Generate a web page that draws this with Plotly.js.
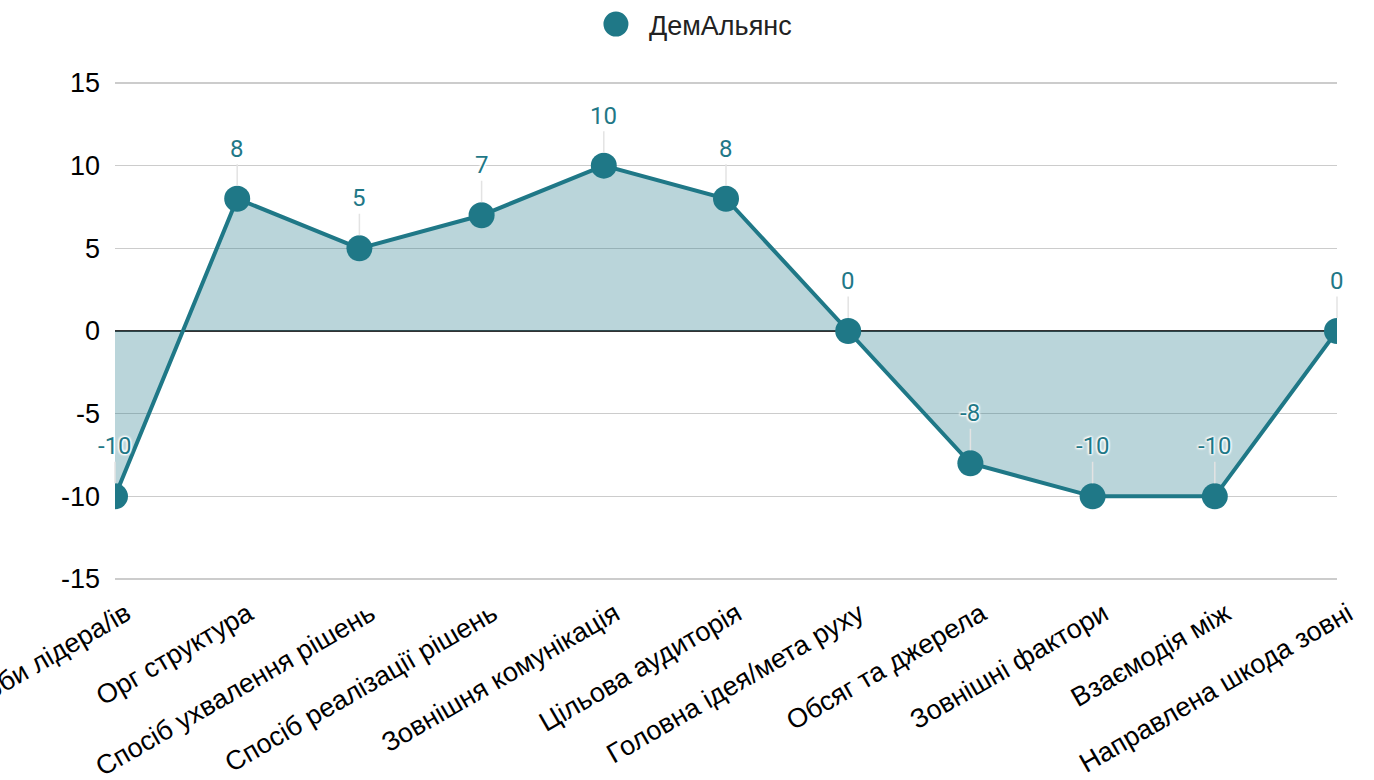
<!DOCTYPE html>
<html>
<head>
<meta charset="utf-8">
<script src="https://cdn.plot.ly/plotly-3.0.1.min.js"></script>
<style>html,body{margin:0;padding:0;background:#fff;}#chart{width:1374px;height:780px;}</style>
</head>
<body>
<div id="chart"></div>
<script>
const categories = [
  "Роль особи лідера/ів",
  "Орг структура",
  "Спосіб ухвалення рішень",
  "Спосіб реалізації рішень",
  "Зовнішня комунікація",
  "Цільова аудиторія",
  "Головна ідея/мета руху",
  "Обсяг та джерела",
  "Зовнішні фактори",
  "Взаємодія між",
  "Направлена шкода зовні"
];
const seriesName = "ДемАльянс";
const values = [-10, 8, 5, 7, 10, 8, 0, -8, -10, -10, 0];
const yTickVals = [-15, -10, -5, 0, 5, 10, 15];
const yTickText = ["-15", "-10", "-5", "0", "5", "10", "15"];

const teal = "#1f7887";
const xFont = {family: "'Liberation Sans', Arial, sans-serif", size: 27, color: "#000"};
const yFont = {family: "'Liberation Sans', Arial, sans-serif", size: 27, color: "#000"};

const trace = {
  type: "scatter",
  mode: "lines+markers",
  name: seriesName,
  x: categories,
  y: values,
  fill: "tozeroy",
  fillcolor: "rgba(31,120,135,0.31)",
  line: {color: teal, width: 4},
  marker: {color: teal, size: 26},
  cliponaxis: true,
  showlegend: false
};

const legendTrace = {
  type: "scatter",
  mode: "markers",
  name: seriesName,
  x: [null],
  y: [null],
  marker: {color: teal, size: 26},
  showlegend: true
};

const annotations = values.map((v, i) => ({
  x: categories[i],
  y: v,
  xref: "x",
  yref: "y",
  text: String(v),
  showarrow: true,
  arrowhead: 0,
  arrowwidth: 1.5,
  arrowcolor: "#e3e3e3",
  ax: 0,
  ay: -50,
  standoff: 13,
  font: {family: "Roboto", size: 24, color: teal,
         shadow: "1px 1px 2px #fff, -1px -1px 2px #fff, 1px -1px 2px #fff, -1px 1px 2px #fff"}
}));

const layout = {
  width: 1374,
  height: 780,
  margin: {l: 115, r: 37, t: 78, b: 196},
  paper_bgcolor: "#fff",
  plot_bgcolor: "#fff",
  showlegend: true,
  legend: {
    orientation: "h",
    xref: "container",
    yref: "container",
    x: 0.5116,
    xanchor: "center",
    y: 1,
    yanchor: "top",
    font: {family: "'Liberation Sans', Arial, sans-serif", size: 27, color: "#222"}
  },
  xaxis: {
    type: "category",
    range: [0, categories.length - 1],
    showgrid: false,
    zeroline: false,
    showline: false,
    ticks: "",
    tickangle: -30,
    ticklabelshift: 11,
    ticklabelstandoff: 8,
    tickfont: xFont,
    fixedrange: true
  },
  yaxis: {
    range: [-15.3, 15.3],
    tickvals: yTickVals,
    ticktext: yTickText,
    showgrid: true,
    gridcolor: "#cccccc",
    gridwidth: 1.5,
    zeroline: true,
    zerolinecolor: "#333333",
    zerolinewidth: 1.5,
    showline: false,
    ticks: "",
    ticklabelstandoff: 14,
    tickfont: yFont,
    fixedrange: true
  },
  annotations: annotations
};

Plotly.newPlot("chart", [trace, legendTrace], layout, {displayModeBar: false, staticPlot: true}).then(() => {
  document.querySelectorAll(".legend [clip-path]").forEach(e => e.removeAttribute("clip-path"));
  document.querySelectorAll(".legend path.scatterpts").forEach(p => {
    p.setAttribute("d", "M-0.5,0A12.5,12.5 0 1,1 -13,-12.5A12.5,12.5 0 0,1 -0.5,0Z");
  });
});
</script>
</body>
</html>
